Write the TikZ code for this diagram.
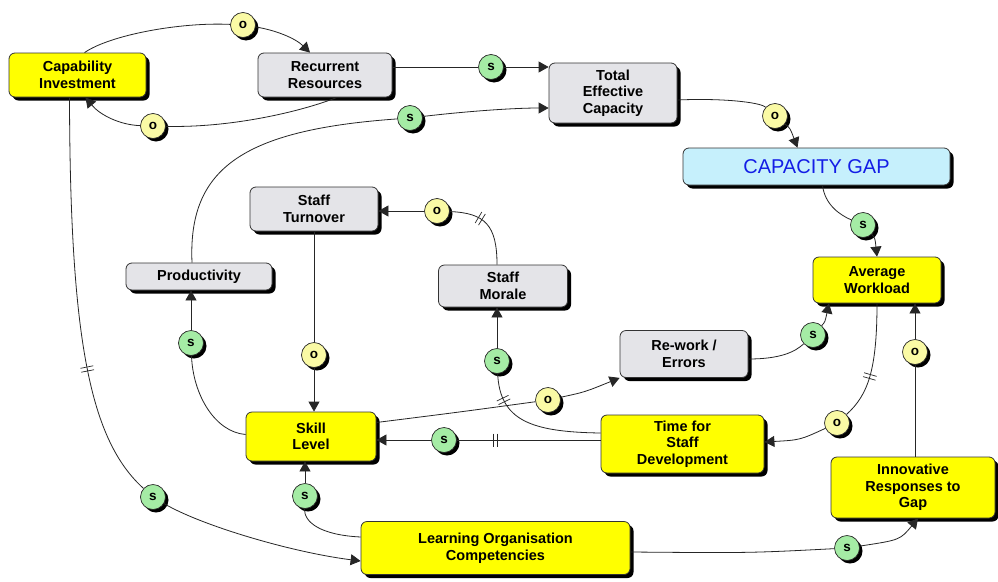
\documentclass[tikz,border=0pt]{standalone}
\usepackage{fontspec}
\setmainfont{Liberation Sans}
\usetikzlibrary{arrows.meta,shadows,decorations.markings}

\definecolor{boxyellow}{RGB}{255,255,0}
\definecolor{boxgrey}{RGB}{228,228,232}
\definecolor{boxcyan}{RGB}{198,240,252}
\definecolor{gaptext}{RGB}{20,30,230}
\definecolor{markyellow}{RGB}{250,250,165}
\definecolor{markgreen}{RGB}{165,236,165}

\tikzset{
  box/.style={rectangle, rounded corners=6pt, draw=black!80, line width=0.8pt,
    align=center, inner sep=0pt,
    font=\bfseries\fontsize{14.5}{16.5}\selectfont,
    drop shadow={shadow xshift=3.5pt, shadow yshift=-3.5pt, opacity=1, fill=black}},
  ybox/.style={box, fill=boxyellow},
  gbox/.style={box, fill=boxgrey},
  cbox/.style={box, fill=boxcyan, text=gaptext, font=\fontsize{20}{24}\selectfont},
  marker/.style={circle, minimum size=25pt, inner sep=0pt, draw=black!85, line width=0.7pt,
    font=\bfseries\fontsize{13.5}{13.5}\selectfont,
    drop shadow={shadow xshift=3pt, shadow yshift=-3pt, opacity=1, fill=black}},
  omark/.style={marker, fill=markyellow},
  smark/.style={marker, fill=markgreen},
  link/.style={draw=black!85, line width=0.8pt},
  arr/.style={link, -{Triangle[length=10pt, width=11pt]}},
  delay/.style={postaction={decorate}, decoration={markings,
    mark=at position #1 with {\draw[black!85, line width=0.7pt]
      (-2pt,-6.5pt) -- (-2pt,6.5pt) (2pt,-6.5pt) -- (2pt,6.5pt);}}}
}

\begin{document}
\begin{tikzpicture}[x=1pt, y=-1pt]
\useasboundingbox (0,0) rectangle (998,581);
\fill[white] (0,0) rectangle (998,581);

% variables
\node[ybox, minimum width=137pt, minimum height=44pt] (capinv)   at (77.5,75)   {Capability\\Investment};
\node[gbox, minimum width=134pt, minimum height=44pt] (recres)   at (325,75)    {Recurrent\\Resources};
\node[gbox, minimum width=128pt, minimum height=60pt] (tec)      at (613,93)    {Total\\Effective\\Capacity};
\node[cbox, minimum width=267pt, minimum height=37pt] (capgap)   at (816.5,166.5) {CAPACITY GAP};
\node[ybox, minimum width=128pt, minimum height=46pt] (avgw)     at (877,280)   {Average\\Workload};
\node[gbox, minimum width=128pt, minimum height=44pt] (turnover) at (314,209)   {Staff\\Turnover};
\node[gbox, minimum width=146pt, minimum height=27pt] (prod)     at (199,276.5) {Productivity};
\node[gbox, minimum width=129pt, minimum height=42pt] (morale)   at (503,286)   {Staff\\Morale};
\node[gbox, minimum width=128pt, minimum height=47pt] (rework)   at (684,354)   {Re-work /\\Errors};
\node[ybox, minimum width=130pt, minimum height=49pt] (skill)    at (311,436.5) {Skill\\Level};
\node[ybox, minimum width=163pt, minimum height=58pt] (tsd)      at (682.5,444) {Time for\\Staff\\Development};
\node[ybox, minimum width=164pt, minimum height=61pt] (innov)    at (913,487.5) {Innovative\\Responses to\\Gap};
\node[ybox, minimum width=269pt, minimum height=53pt] (loc)      at (495.5,548) {Learning Organisation\\Competencies};

% polarity markers
\node[omark] (o1) at (243,25)  {o};
\node[omark] (o2) at (153,126) {o};
\node[smark] (s1) at (491,67)  {s};
\node[smark] (s2) at (410,118) {s};
\node[omark] (o3) at (775,116) {o};
\node[smark] (s3) at (863,225) {s};
\node[omark] (o4) at (437,211) {o};
\node[omark] (o5) at (314,355) {o};
\node[smark] (s4) at (191,343) {s};
\node[smark] (s5) at (497,361) {s};
\node[omark] (o6) at (548,400) {o};
\node[smark] (s6) at (813,335) {s};
\node[omark] (o7) at (915,352) {o};
\node[omark] (o8) at (837,423) {o};
\node[smark] (s7) at (444,440) {s};
\node[smark] (s8) at (305,496) {s};
\node[smark] (s9) at (153,497) {s};
\node[smark] (s10) at (847,548) {s};

% links
\draw[link] ([xshift=7pt]capinv.north) .. controls (110,35) and (180,22) .. (o1);
\draw[arr] (o1) .. controls (275,30) and (295,38) .. ([xshift=-15pt]recres.north);

\draw[link] ([xshift=12pt]recres.south) .. controls (300,112) and (230,128) .. (o2);
\draw[arr] (o2) .. controls (120,125) and (100,115) .. ([xshift=8pt]capinv.south);

\draw[link] ([yshift=8pt]recres.east) -- (s1);
\draw[arr] (s1) -- (s1 -| tec.west);

\draw[link] ([xshift=-7pt]prod.north) .. controls (188,170) and (240,130) .. (s2);
\draw[arr] (s2) .. controls (460,112) and (510,108) .. ([yshift=-15pt]tec.west);

\draw[link] ([yshift=-7pt]tec.east) .. controls (720,98) and (760,102) .. (o3);
\draw[arr] (o3) .. controls (790,128) .. ([xshift=-19pt]capgap.north);

\draw[link] ([xshift=6pt]capgap.south) .. controls (825,205) and (840,215) .. (s3);
\draw[arr] (s3) .. controls (875,238) .. (avgw.north);

\draw[link, delay=0.62] ([xshift=-6pt]morale.north) .. controls (497,225) and (485,213) .. (o4);
\draw[arr] (o4) -- (o4 -| turnover.east);

\draw[link] (turnover) -- (o5);
\draw[arr] (o5) -- (o5 |- skill.north);

\draw[link] ([yshift=2pt]skill.west) .. controls (215,432) and (193,395) .. (s4);
\draw[arr] (s4) -- (s4 |- prod.south);

\draw[link, delay=0.8] ([yshift=11pt]tsd.west) .. controls (530,432) and (500,420) .. (s5);
\draw[arr] (s5) -- (s5 |- morale.south);

\draw[link] ([yshift=14pt]skill.east) .. controls (460,412) .. (o6);
\draw[arr] (o6) .. controls (585,392) .. (rework.south west);

\draw[link] ([yshift=-5pt]rework.east) .. controls (780,359) and (795,352) .. (s6);
\draw[arr] (s6) .. controls (825,322) .. ([xshift=-48pt]avgw.south);

\draw[link] (innov.north -| o7) -- (o7);
\draw[arr] (o7) -- (o7 |- avgw.south);

\draw[link, delay=0.62] (avgw.south) .. controls (877,370) and (868,395) .. (o8);
\draw[arr] (o8) .. controls (800,440) .. ([yshift=2pt]tsd.east);

\draw[link, delay=0.73] (tsd.west |- s7) -- (s7);
\draw[arr] (s7) -- (s7 -| skill.east);

\draw[link] ([yshift=11pt]loc.west) .. controls (320,535) and (304,522) .. (s8);
\draw[arr] (s8) -- (s8 |- skill.south);

\draw[link, delay=0.67] ([xshift=-8pt]capinv.south) .. controls (70,340) and (90,440) .. (s9);
\draw[arr] (s9) .. controls (200,525) and (290,552) .. ([yshift=-13pt]loc.west);

\draw[link] ([yshift=-4pt]loc.east) .. controls (750,553) .. (s10);
\draw[arr] (s10) .. controls (900,540) .. ([xshift=5pt]innov.south);
\end{tikzpicture}
\end{document}
